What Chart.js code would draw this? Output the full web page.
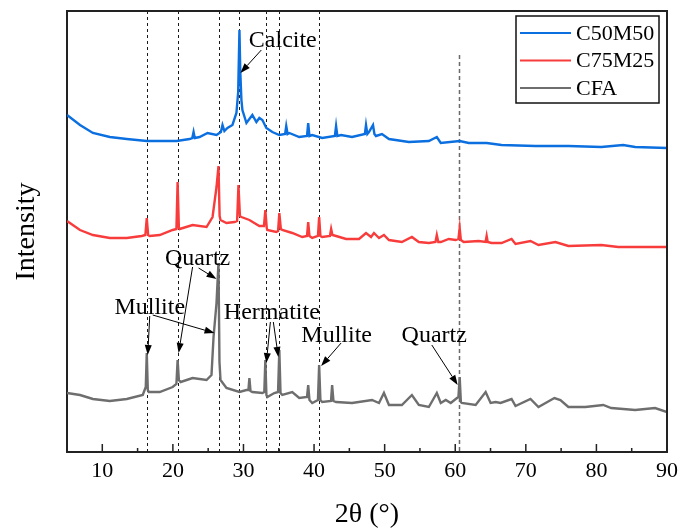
<!DOCTYPE html>
<html>
<head>
<meta charset="utf-8">
<script src="https://cdn.jsdelivr.net/npm/chart.js@4"></script>
<style>
  html,body{margin:0;padding:0;background:#fff;}
  #wrap{width:684px;height:531px;}
</style>
</head>
<body>
<div id="wrap"><canvas id="myChart" width="684" height="531"></canvas></div>
<script>
const seriesNames=['C50M50','C75M25','CFA'];
const seriesColors=['#0b6fe0','#f83c3c','#6e6e6e'];
const xTicks=[10,20,30,40,50,60,70,80,90];
const xMinor=[15,25,35,45,55,65,75,85];

// 2theta, intensity (offset traces, arbitrary units)
const c50m50=[[5.0,337],[6.84,327],[8.67,319],[11.07,315],[13.47,313],[16.3,311],[20.53,311],[22.37,313],[22.75,314],[22.93,320],[23.1,314],[23.78,315],[24.91,319],[26.18,317],[26.8,320],[27.03,327],[27.3,321],[27.73,324],[28.44,327],[29.0,339],[29.25,360],[29.43,422],[29.55,380],[29.71,352],[29.85,342],[30.42,329],[31.26,337],[31.83,330],[32.25,334],[32.68,332],[33.24,324],[34.09,320],[35.08,317],[35.9,318],[36.06,326],[36.25,318],[36.49,319],[37.9,315],[39.0,316],[39.17,329],[39.35,316],[39.74,317],[41.15,314],[42.95,316],[43.12,326],[43.3,316],[43.83,317],[45.38,315],[47.2,318],[47.36,327],[47.55,318],[47.78,320],[48.35,327],[48.55,318],[48.77,316],[49.62,318],[50.61,313],[53.43,310],[56.26,311],[57.39,315],[57.95,309],[60.63,311],[61.91,309],[64.45,309],[66.56,307],[71.37,306],[76.03,306],[80.69,305],[83.79,307],[85.49,305],[90.0,304]];
const c75m25=[[5.0,231],[6.84,222],[8.67,217],[11.07,214],[13.47,214],[15.59,216],[16.1,217],[16.3,234],[16.5,217],[16.72,216],[18.13,217],[19.97,222],[20.5,223],[20.67,270],[20.85,224],[20.96,223],[22.79,227],[24.77,225],[25.62,235],[26.18,265],[26.46,286],[26.62,236],[26.75,232],[27.59,229],[28.72,230],[29.1,231],[29.29,267],[29.5,236],[29.71,235],[30.84,232],[32.25,226],[32.9,226],[33.1,242],[33.3,224],[33.38,222],[34.65,220],[34.9,221],[35.08,239],[35.3,223],[35.5,222],[36.91,219],[38.32,215],[39.0,216],[39.17,230],[39.35,216],[39.74,214],[40.55,216],[40.72,235],[40.9,216],[41.15,215],[42.25,216],[42.42,223],[42.6,217],[43.12,216],[44.54,213],[46.37,213],[47.36,219],[48.07,215],[48.49,219],[49.2,214],[49.9,217],[50.61,212],[52.44,210],[53.86,215],[54.84,210],[56.26,209],[57.2,210],[57.39,217],[57.6,210],[57.95,210],[59.08,213],[60.07,212],[60.45,213],[60.63,224],[60.8,212],[61.2,210],[63.32,211],[64.3,210],[64.45,216],[64.6,210],[65.15,209],[66.56,209],[67.98,213],[68.54,208],[70.66,211],[71.79,207],[74.19,210],[76.03,206],[80.69,207],[83.09,205],[85.49,205],[90.0,205]];
const cfa=[[5.0,59],[6.84,57],[8.67,53],[11.07,51],[13.47,53],[15.73,57],[16.16,65],[16.3,99],[16.45,62],[16.58,60],[18.13,60],[19.97,65],[20.5,68],[20.67,92],[20.85,72],[21.1,70],[22.79,74],[24.77,72],[25.47,77],[25.76,115],[26.18,149],[26.46,189],[26.6,90],[26.75,72],[27.59,64],[29.43,60],[30.42,62],[30.7,62],[30.84,74],[31.0,61],[31.26,60],[32.68,59],[32.95,60],[33.1,92],[33.25,57],[33.38,55],[34.37,59],[34.9,60],[35.08,102],[35.25,59],[35.5,57],[36.91,60],[37.9,54],[39.0,55],[39.17,67],[39.35,52],[39.74,49],[40.55,52],[40.72,87],[40.9,52],[41.15,50],[42.4,51],[42.56,67],[42.75,51],[43.12,50],[45.38,49],[48.21,52],[49.2,49],[49.9,59],[50.61,47],[52.44,47],[53.86,57],[54.84,47],[56.26,45],[57.39,59],[57.95,49],[58.66,52],[59.36,49],[60.07,53],[60.45,55],[60.63,75],[60.8,50],[60.92,49],[62.89,47],[64.31,60],[65.01,49],[65.72,50],[66.42,49],[67.98,53],[68.54,46],[70.66,53],[71.79,45],[74.05,54],[74.9,52],[76.03,45],[78.43,45],[80.97,47],[82.1,44],[85.49,42],[88.31,44],[90.0,40]];

const peakLines=[16.35,20.7,26.5,29.35,33.2,35.1,40.7,60.6];
const peakLineTop=[441,441,441,441,441,441,441,397];

const labelTexts=['Calcite','Quartz','Mullite','Hermatite','Mullite','Quartz'];
const labelX=[35.57,23.5,16.72,34.02,43.2,57.03];
const labelY=[405,187,138,133,110,110];
// arrows: from x,y to x,y (data units)
const arrows=[[32.53,402,29.57,379],[22.79,185,20.81,99],[23.64,184,26.18,173],[16.72,136,16.44,97],[17.14,137,25.9,119],[33.81,130,33.24,89],[34.23,130,34.94,95],[43.83,109,41.0,86],[56.68,107,60.35,67]];

const FONT='"Liberation Serif","Times New Roman",serif';

const xrdPlugin={
  id:'xrd',
  beforeDatasetsDraw(chart){
    const ctx=chart.ctx, xs=chart.scales.x, ys=chart.scales.y, ca=chart.chartArea;
    ctx.save();
    peakLines.forEach((v,i)=>{
      const px=Math.round(xs.getPixelForValue(v))+0.5;
      const last=i===peakLines.length-1;
      ctx.strokeStyle=last?'#6a6a6a':'#1a1a1a';
      ctx.lineWidth=last?1.5:1;
      ctx.setLineDash(last?[4,3]:[3,3]);
      ctx.beginPath();
      ctx.moveTo(px,ys.getPixelForValue(peakLineTop[i]));
      ctx.lineTo(px,ca.bottom);
      ctx.stroke();
    });
    ctx.restore();
  },
  afterDatasetsDraw(chart){
    const ctx=chart.ctx, xs=chart.scales.x, ys=chart.scales.y, ca=chart.chartArea;
    ctx.save();
    ctx.strokeStyle='#222';
    ctx.lineWidth=2;
    ctx.beginPath();
    ctx.moveTo(ca.left,ca.top);ctx.lineTo(ca.right,ca.top);ctx.lineTo(ca.right,ca.bottom);
    ctx.stroke();
    ctx.lineWidth=1.5;
    xTicks.forEach(v=>{
      const px=xs.getPixelForValue(v);
      ctx.beginPath();ctx.moveTo(px,ca.bottom);ctx.lineTo(px,ca.bottom-8);ctx.stroke();
    });
    xMinor.forEach(v=>{
      const px=xs.getPixelForValue(v);
      ctx.beginPath();ctx.moveTo(px,ca.bottom);ctx.lineTo(px,ca.bottom-4);ctx.stroke();
    });

    ctx.fillStyle='#000';
    ctx.font='24px '+FONT;
    ctx.textAlign='center';
    ctx.textBaseline='alphabetic';
    labelTexts.forEach((t,i)=>{
      ctx.fillText(t,xs.getPixelForValue(labelX[i]),ys.getPixelForValue(labelY[i]));
    });
    ctx.strokeStyle='#000';
    ctx.lineWidth=1;
    arrows.forEach(a=>{
      const x1=xs.getPixelForValue(a[0]),y1=ys.getPixelForValue(a[1]);
      const x2=xs.getPixelForValue(a[2]),y2=ys.getPixelForValue(a[3]);
      const ang=Math.atan2(y2-y1,x2-x1);
      const hl=10,hw=3.5;
      const bx=x2-hl*Math.cos(ang),by=y2-hl*Math.sin(ang);
      ctx.beginPath();ctx.moveTo(x1,y1);ctx.lineTo(bx,by);ctx.stroke();
      ctx.beginPath();
      ctx.moveTo(x2,y2);
      ctx.lineTo(bx+hw*Math.sin(ang),by-hw*Math.cos(ang));
      ctx.lineTo(bx-hw*Math.sin(ang),by+hw*Math.cos(ang));
      ctx.closePath();ctx.fill();
    });

    const lx=ca.right-151, ly=ca.top+5, lw=143, lh=87;
    ctx.lineWidth=1.5;
    ctx.strokeStyle='#111';
    ctx.strokeRect(lx,ly,lw,lh);
    ctx.font='22px '+FONT;
    ctx.textAlign='left';
    ctx.textBaseline='middle';
    seriesNames.forEach((n,i)=>{
      const ry=ly+17+i*27.5;
      ctx.strokeStyle=seriesColors[i];
      ctx.lineWidth=2;
      ctx.beginPath();ctx.moveTo(lx+4,ry);ctx.lineTo(lx+55,ry);ctx.stroke();
      ctx.fillStyle='#000';
      ctx.fillText(n,lx+60,ry+1);
    });
    ctx.restore();
  }
};

window.addEventListener('load',()=>{
  const ctx=document.getElementById('myChart');
  const allSeries=[c50m50,c75m25,cfa];
  new Chart(ctx,{
    type:'line',
    data:{
      datasets:allSeries.map((s,i)=>({
        label:seriesNames[i],
        data:s.map(p=>({x:p[0],y:p[1]})),
        borderColor:seriesColors[i],
        borderWidth:2.4,
        pointRadius:0,
        tension:0,
        fill:false
      }))
    },
    options:{
      responsive:false,
      animation:false,
      layout:{padding:{top:11,right:15,left:0,bottom:0}},
      plugins:{legend:{display:false},tooltip:{enabled:false}},
      scales:{
        x:{
          type:'linear',min:5,max:90,
          afterBuildTicks:s=>{s.ticks=xTicks.map(v=>({value:v}));},
          afterFit:s=>{s.height=79;},
          grid:{display:false,drawTicks:false},
          border:{display:true,color:'#222',width:2},
          ticks:{color:'#000',font:{family:FONT,size:22},padding:6,maxRotation:0},
          title:{display:true,text:'2θ (°)',color:'#000',font:{family:FONT,size:28},padding:{top:0,bottom:0}}
        },
        y:{
          type:'linear',min:0,max:441,
          afterFit:s=>{s.width=67;},
          grid:{display:false},
          border:{display:true,color:'#222',width:2},
          ticks:{display:false},
          title:{display:true,text:'Intensity',color:'#000',font:{family:FONT,size:28},padding:{top:10,bottom:0}}
        }
      }
    },
    plugins:[xrdPlugin]
  });
});
</script>
</body>
</html>
